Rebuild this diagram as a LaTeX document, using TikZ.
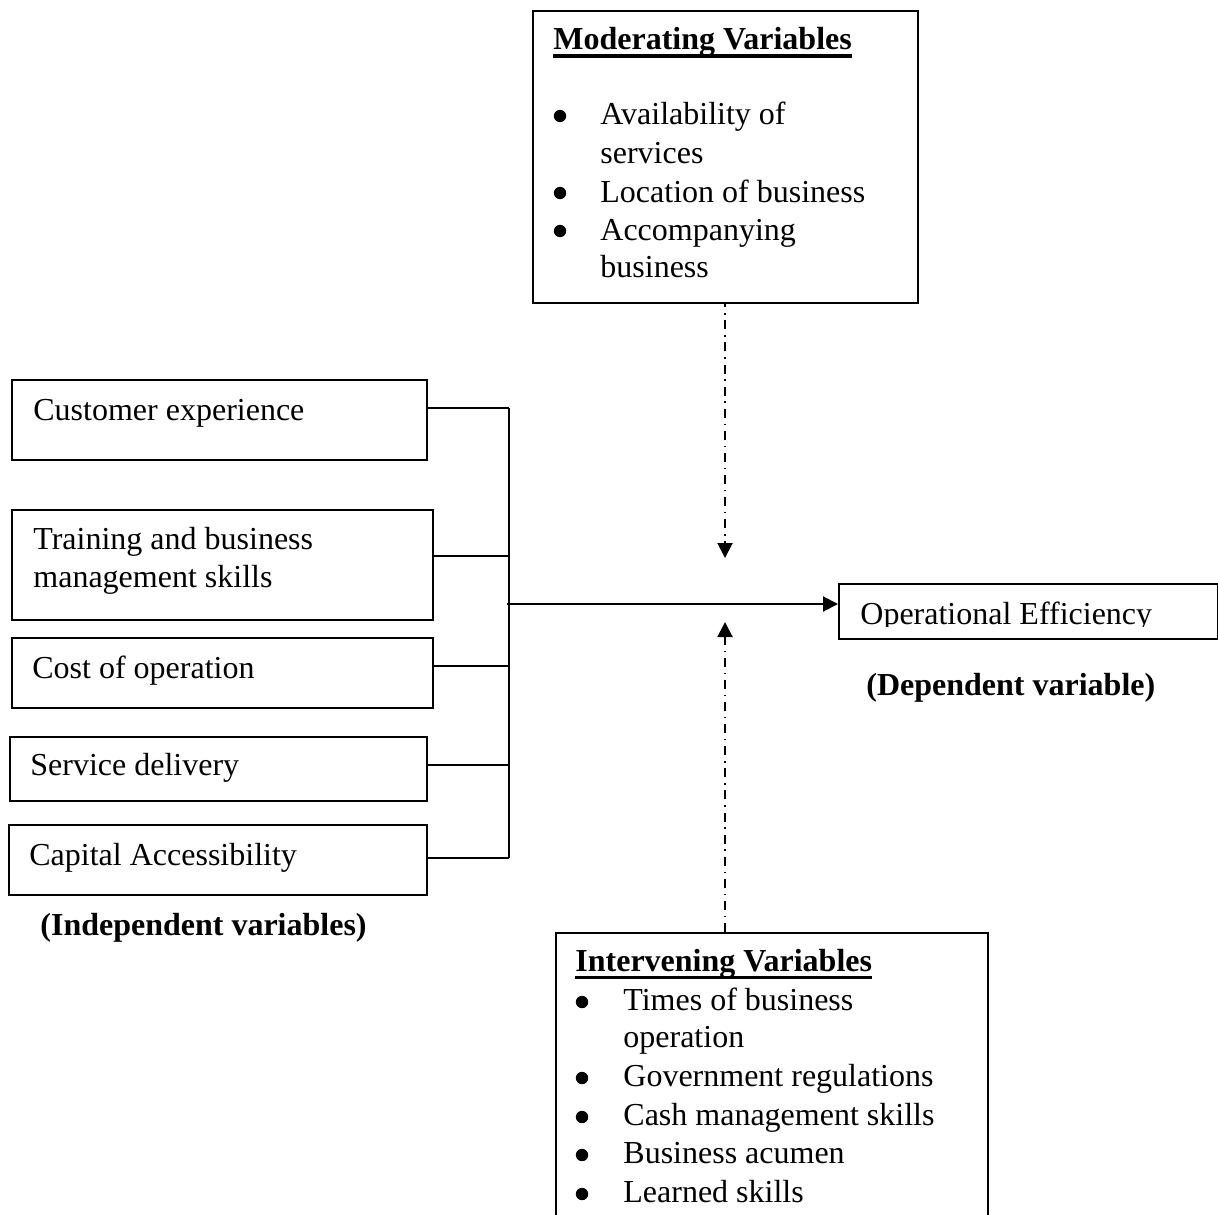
\documentclass[tikz,border=0pt]{standalone}
\usepackage{fontspec}
\setmainfont{Liberation Serif}
\usetikzlibrary{arrows.meta}
\tikzset{
  bx/.style={draw, line width=1pt, inner sep=0pt, anchor=north west},
  tx/.style={inner sep=0pt, anchor=base west, font=\fontsize{16}{19}\selectfont},
  hd/.style={tx, font=\fontsize{16}{19}\selectfont\bfseries},
  bul/.style={circle, fill, inner sep=0pt, minimum size=6.2pt},
  ln/.style={line width=1pt},
  dd/.style={line width=1pt, dash pattern=on 4.5pt off 2.9pt on 0.75pt off 2.9pt},
  tip/.style={-{Triangle[length=7.5pt,width=7.5pt]}},
  ul/.style={line width=1.75pt}
}
\begin{document}
\begin{tikzpicture}[x=0.5pt,y=-0.5pt]
\clip (0,0) rectangle (1218,1214);
\fill[white] (0,0) rectangle (1218,1214);

% Moderating box
\node[bx, minimum width=192.5pt, minimum height=146pt] (mod) at (532,10) {};
\node[hd] (modh) at (553,50) {Moderating Variables};
\draw[ul] ([yshift=-2.9pt]modh.base west) -- ([yshift=-2.9pt]modh.base east);
\node[bul] (mb1) at (560,116) {};
\node[tx] (m1) at (600,125) {Availability of};
\node[tx] (m1b) at (600,163) {services};
\node[bul] (mb2) at (560,193) {};
\node[tx] (m2) at (600,202) {Location of business};
\node[bul] (mb3) at (560,231) {};
\node[tx] (m3) at (600,240) {Accompanying};
\node[tx] (m3b) at (600,277) {business};

% Independent variable boxes
\node[bx, minimum width=207.5pt, minimum height=40pt] (cust) at (11,379) {};
\node[tx] (custt) at (33,420) {Customer experience};
\node[bx, minimum width=210.5pt, minimum height=55pt] (train) at (11,509) {};
\node[tx] (traint) at (33,549) {Training and business};
\node[tx] (traint2) at (33,587) {management skills};
\node[bx, minimum width=210.5pt, minimum height=35pt] (cost) at (11,637) {};
\node[tx] (costt) at (32,678) {Cost of operation};
\node[bx, minimum width=208.5pt, minimum height=32pt] (serv) at (9,736) {};
\node[tx] (servt) at (30,775) {Service delivery};
\node[bx, minimum width=209pt, minimum height=35pt] (cap) at (8,824) {};
\node[tx] (capt) at (29,865) {Capital Accessibility};
\node[hd] (indep) at (40,935) {(Independent variables)};

% Dependent variable
\node[bx, minimum width=189.5pt, minimum height=27.5pt] (dep) at (838,583) {};
\begin{scope}
\clip (838,583) rectangle (1217,626);
\node[tx] (dept) at (860,624) {Operational Efficiency};
\end{scope}
\node[hd] (deph) at (866,695) {(Dependent variable)};

% Intervening box
\node[bx, minimum width=216pt, minimum height=150pt] (int) at (555,932) {};
\node[hd] (inth) at (575,971) {Intervening Variables};
\draw[ul] ([yshift=-3.2pt]inth.base west) -- ([yshift=-3.2pt]inth.base east);
\node[bul] (ib1) at (582,1002) {};
\node[tx] (i1) at (623,1010) {Times of business};
\node[tx] (i1b) at (623,1047) {operation};
\node[bul] (ib2) at (582,1078) {};
\node[tx] (i2) at (623,1086) {Government regulations};
\node[bul] (ib3) at (582,1117) {};
\node[tx] (i3) at (623,1125) {Cash management skills};
\node[bul] (ib4) at (582,1155) {};
\node[tx] (i4) at (623,1163) {Business acumen};
\node[bul] (ib5) at (582,1194) {};
\node[tx] (i5) at (623,1202) {Learned skills};

% Bus and connectors
\coordinate (j1) at (509,408);
\coordinate (j2) at (509,556);
\coordinate (j3) at (509,666);
\coordinate (j4) at (509,765);
\coordinate (j5) at (509,858);
\coordinate (jm) at (507,604);
\draw[ln] (j1) -- (j5);
\draw[ln] (cust.east |- j1) -- (j1);
\draw[ln] (train.east |- j2) -- (j2);
\draw[ln] (cost.east |- j3) -- (j3);
\draw[ln] (serv.east |- j4) -- (j4);
\draw[ln] (cap.east |- j5) -- (j5);
\draw[ln, tip] (jm) -- (jm -| dep.west);

% Dash-dot arrows
\coordinate (mt) at (725,558);
\coordinate (it) at (725,622);
\draw[dd, tip, dash phase=2.9pt] (mod.south -| mt) -- (mt);
\draw[dd, tip] (int.north -| it) -- (it);
\end{tikzpicture}
\end{document}
